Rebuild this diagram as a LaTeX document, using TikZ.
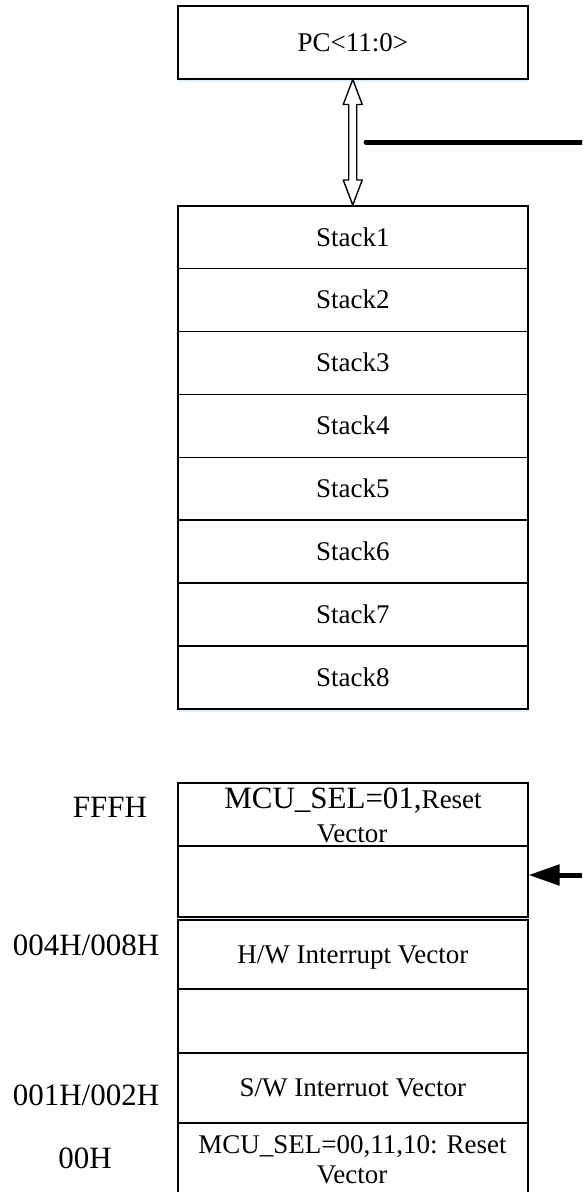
\documentclass[tikz,border=0pt]{standalone}
\usepackage{fontspec}
\setmainfont{Liberation Serif}
\usetikzlibrary{arrows.meta,calc,shadows}
\newcommand\boxfont{\fontsize{27pt}{30pt}\selectfont}
\newcommand\addrfont{\fontsize{31pt}{34pt}\selectfont}
\begin{document}
\begin{tikzpicture}[x=1pt,y=-1pt,
  cell/.style={draw=black, line width=1.5pt, fill=white, minimum width=350pt,
    inner sep=0pt, anchor=north west, text height=17.8pt, text depth=0pt,
    font=\boxfont,
    drop shadow={shadow xshift=0pt, shadow yshift=-3pt, fill=blue!50!cyan, opacity=0.12}},
  txt/.style={anchor=base, inner sep=0pt, font=\boxfont},
  addr/.style={anchor=base, inner sep=0pt, font=\addrfont},
  bus/.style={line width=5pt},
]
\useasboundingbox (0,0) rectangle (582,1192);
\clip (0,0) rectangle (582,1192);

% PC register
\node[cell, minimum height=73pt] (pc) at (177,5) {PC<11:0>};

% stack
\foreach \i in {1,...,8}
  \node[cell, minimum height=62.875pt] (s\i) at (177,{205+(\i-1)*62.875}) {Stack\i};

% hollow double arrow between PC and stack
\draw[line width=1.4pt, line join=round, fill=white]
  (pc.south) -- ++(9.5,25) -- ++(-5.5,0) -- ($(s1.north)+(4,-25)$) -- ++(5.5,0)
  -- (s1.north) -- ++(-9.5,-25) -- ++(5.5,0) -- ($(pc.south)+(-4,25)$) -- ++(-5.5,0) -- cycle;

% thick bus line
\coordinate (busL) at (366,142);
\coordinate (busR) at (582,142);
\draw[bus, line cap=round] (busL) -- (busR);

% program memory
\node[cell, minimum height=63pt] (r1) at (177,782) {};
\node[cell, minimum height=71pt] (r2) at (177,845) {};
\node[cell, minimum height=69pt] (r3) at (177,919) {H/W Interrupt Vector};
\node[cell, minimum height=64pt] (r4) at (177,988) {};
\node[cell, minimum height=70pt] (r5) at (177,1052) {S/W Interruot Vector};
\node[cell, minimum height=80pt] (r6) at (177,1122) {};

\node[txt] (r1a) at (353,808) {{\addrfont MCU\_SEL=01,}Reset};
\node[txt] (r1b) at (352,842) {Vector};
\node[txt] (r6a) at (352.5,1153) {MCU\_SEL=00,11,10: Reset};
\node[txt] (r6b) at (352,1183) {Vector};

% addresses
\node[addr] (aF) at (110,817) {FFFH};
\node[addr] (a4) at (86,955) {004H/008H};
\node[addr] (a1) at (86,1105) {001H/002H};
\node[addr] (a0) at (85,1168) {00H};

% incoming arrow
\coordinate (vin) at (582,875);
\draw[bus, -{Triangle[length=31pt,width=20pt]}] (vin) -- (vin -| r2.east);
\end{tikzpicture}
\end{document}
